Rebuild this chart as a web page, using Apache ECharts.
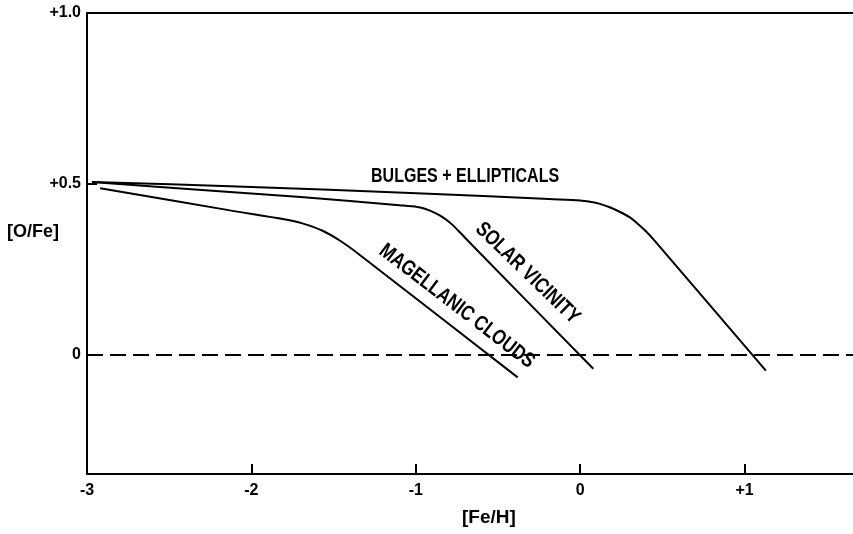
<!DOCTYPE html>
<html>
<head>
<meta charset="utf-8">
<title>[O/Fe] vs [Fe/H]</title>
<script src="https://cdn.jsdelivr.net/npm/echarts@6/dist/echarts.min.js"></script>
<style>
	html, body { margin: 0; padding: 0; background: #fff; }
	#echart1 { width: 853px; height: 534px; }
</style>
</head>
<body>
<div id="echart1"></div>
<script>
// values: [ [Fe/H], [O/Fe] ]
var bulges = [[-2.97, 0.505], [-2.13, 0.493], [-0.92, 0.471], [-0.19, 0.455], [0.0, 0.451],
	[0.06, 0.447], [0.12, 0.441], [0.18, 0.431], [0.24, 0.418], [0.30, 0.402], [0.35, 0.383],
	[0.40, 0.361], [0.45, 0.335], [1.13, -0.047]];
var solar = [[-2.97, 0.505], [-2.13, 0.476], [-1.70, 0.461], [-1.10, 0.437], [-0.99, 0.432],
	[-0.94, 0.426], [-0.88, 0.414], [-0.83, 0.400], [-0.78, 0.381], [-0.73, 0.357],
	[-0.65, 0.317], [0.08, -0.042]];
var magellanic = [[-2.92, 0.487], [-2.13, 0.422], [-1.80, 0.396], [-1.69, 0.384], [-1.57, 0.363],
	[-1.46, 0.333], [-1.35, 0.295], [-0.38, -0.067]];
var xTicks = [-3, -2, -1, 0, 1];
var yTicks = [0, 0.5, 1];
var curveNames = ['BULGES + ELLIPTICALS', 'SOLAR VICINITY', 'MAGELLANIC CLOUDS'];
var nameAt = [[-0.70, 0.52], [-0.32, 0.238], [-0.75, 0.141]];
var nameAngle = [0, -44, -37.5];

var option;
initChart('echart1');

function initChart(domId) {
	var myChart = echarts.init(document.getElementById(domId));
	var font = 'Liberation Sans';
	var line = function (name, data) {
		return {
			name: name,
			type: 'line',
			data: data,
			smooth: 0.3,
			symbol: 'none',
			lineStyle: { color: '#000', width: 2 }
		};
	};
	option = {
		backgroundColor: '#fff',
		animation: false,
		grid: { left: 87, right: 0, top: 13, bottom: 60, outerBoundsMode: 'none' },
		xAxis: [
			{
				type: 'value',
				min: -3,
				max: 1.66,
				axisLine: { show: true, onZero: false, lineStyle: { color: '#000', width: 2 } },
				axisTick: { show: true, inside: true, length: 10, customValues: [-2, -1, 0, 1],
					lineStyle: { color: '#000', width: 2 } },
				axisLabel: {
					customValues: xTicks,
					margin: 9,
					color: '#000',
					fontFamily: font,
					fontWeight: 'bold',
					fontSize: 16,
					formatter: function (v) { return v > 0 ? '+' + v : String(v); }
				},
				splitLine: { show: false }
			},
			{
				// top border of the frame
				type: 'value',
				position: 'top',
				min: -3,
				max: 1.66,
				axisLine: { show: true, onZero: false, lineStyle: { color: '#000', width: 2 } },
				axisTick: { show: false },
				axisLabel: { show: false },
				splitLine: { show: false }
			}
		],
		yAxis: {
			type: 'value',
			min: -0.35,
			max: 1,
			axisLine: { show: true, onZero: false, lineStyle: { color: '#000', width: 2 } },
			axisTick: { show: true, inside: true, length: 10, customValues: [0, 0.5],
				lineStyle: { color: '#000', width: 2 } },
			axisLabel: {
				customValues: yTicks,
				margin: 6,
				color: '#000',
				fontFamily: font,
				fontWeight: 'bold',
				fontSize: 16,
				formatter: function (v) { return v === 0 ? '0' : '+' + v.toFixed(1); }
			},
			splitLine: { show: false }
		},
		series: [
			line(curveNames[0], bulges),
			line(curveNames[1], solar),
			line(curveNames[2], magellanic),
			{
				type: 'line',
				data: [],
				markLine: {
					silent: true,
					symbol: 'none',
					label: { show: false },
					lineStyle: { color: '#000', width: 2, type: [16, 7] },
					data: [{ yAxis: 0 }]
				}
			}
		]
	};
	myChart.setOption(option);

	// axis titles and curve names
	var g = [
		{ type: 'text', left: 7, top: 223, style: { text: '[O/Fe]', fill: '#000',
			font: 'bold 18px ' + font } },
		{ type: 'text', left: 462, top: 508, style: { text: '[Fe/H]', fill: '#000',
			font: 'bold 19px ' + font } }
	];
	for (var i = 0; i < curveNames.length; i++) {
		var p = myChart.convertToPixel({ xAxisIndex: 0, yAxisIndex: 0 }, nameAt[i]);
		g.push({
			type: 'text',
			x: p[0],
			y: p[1],
			rotation: nameAngle[i] * Math.PI / 180,
			scaleY: 1.25,
			style: {
				text: curveNames[i],
				fill: '#000',
				font: 'bold ' + (i === 0 ? 16 : 17) + 'px ' + font,
				align: 'center',
				verticalAlign: 'middle'
			}
		});
	}
	myChart.setOption({ graphic: g });
}
</script>
</body>
</html>
